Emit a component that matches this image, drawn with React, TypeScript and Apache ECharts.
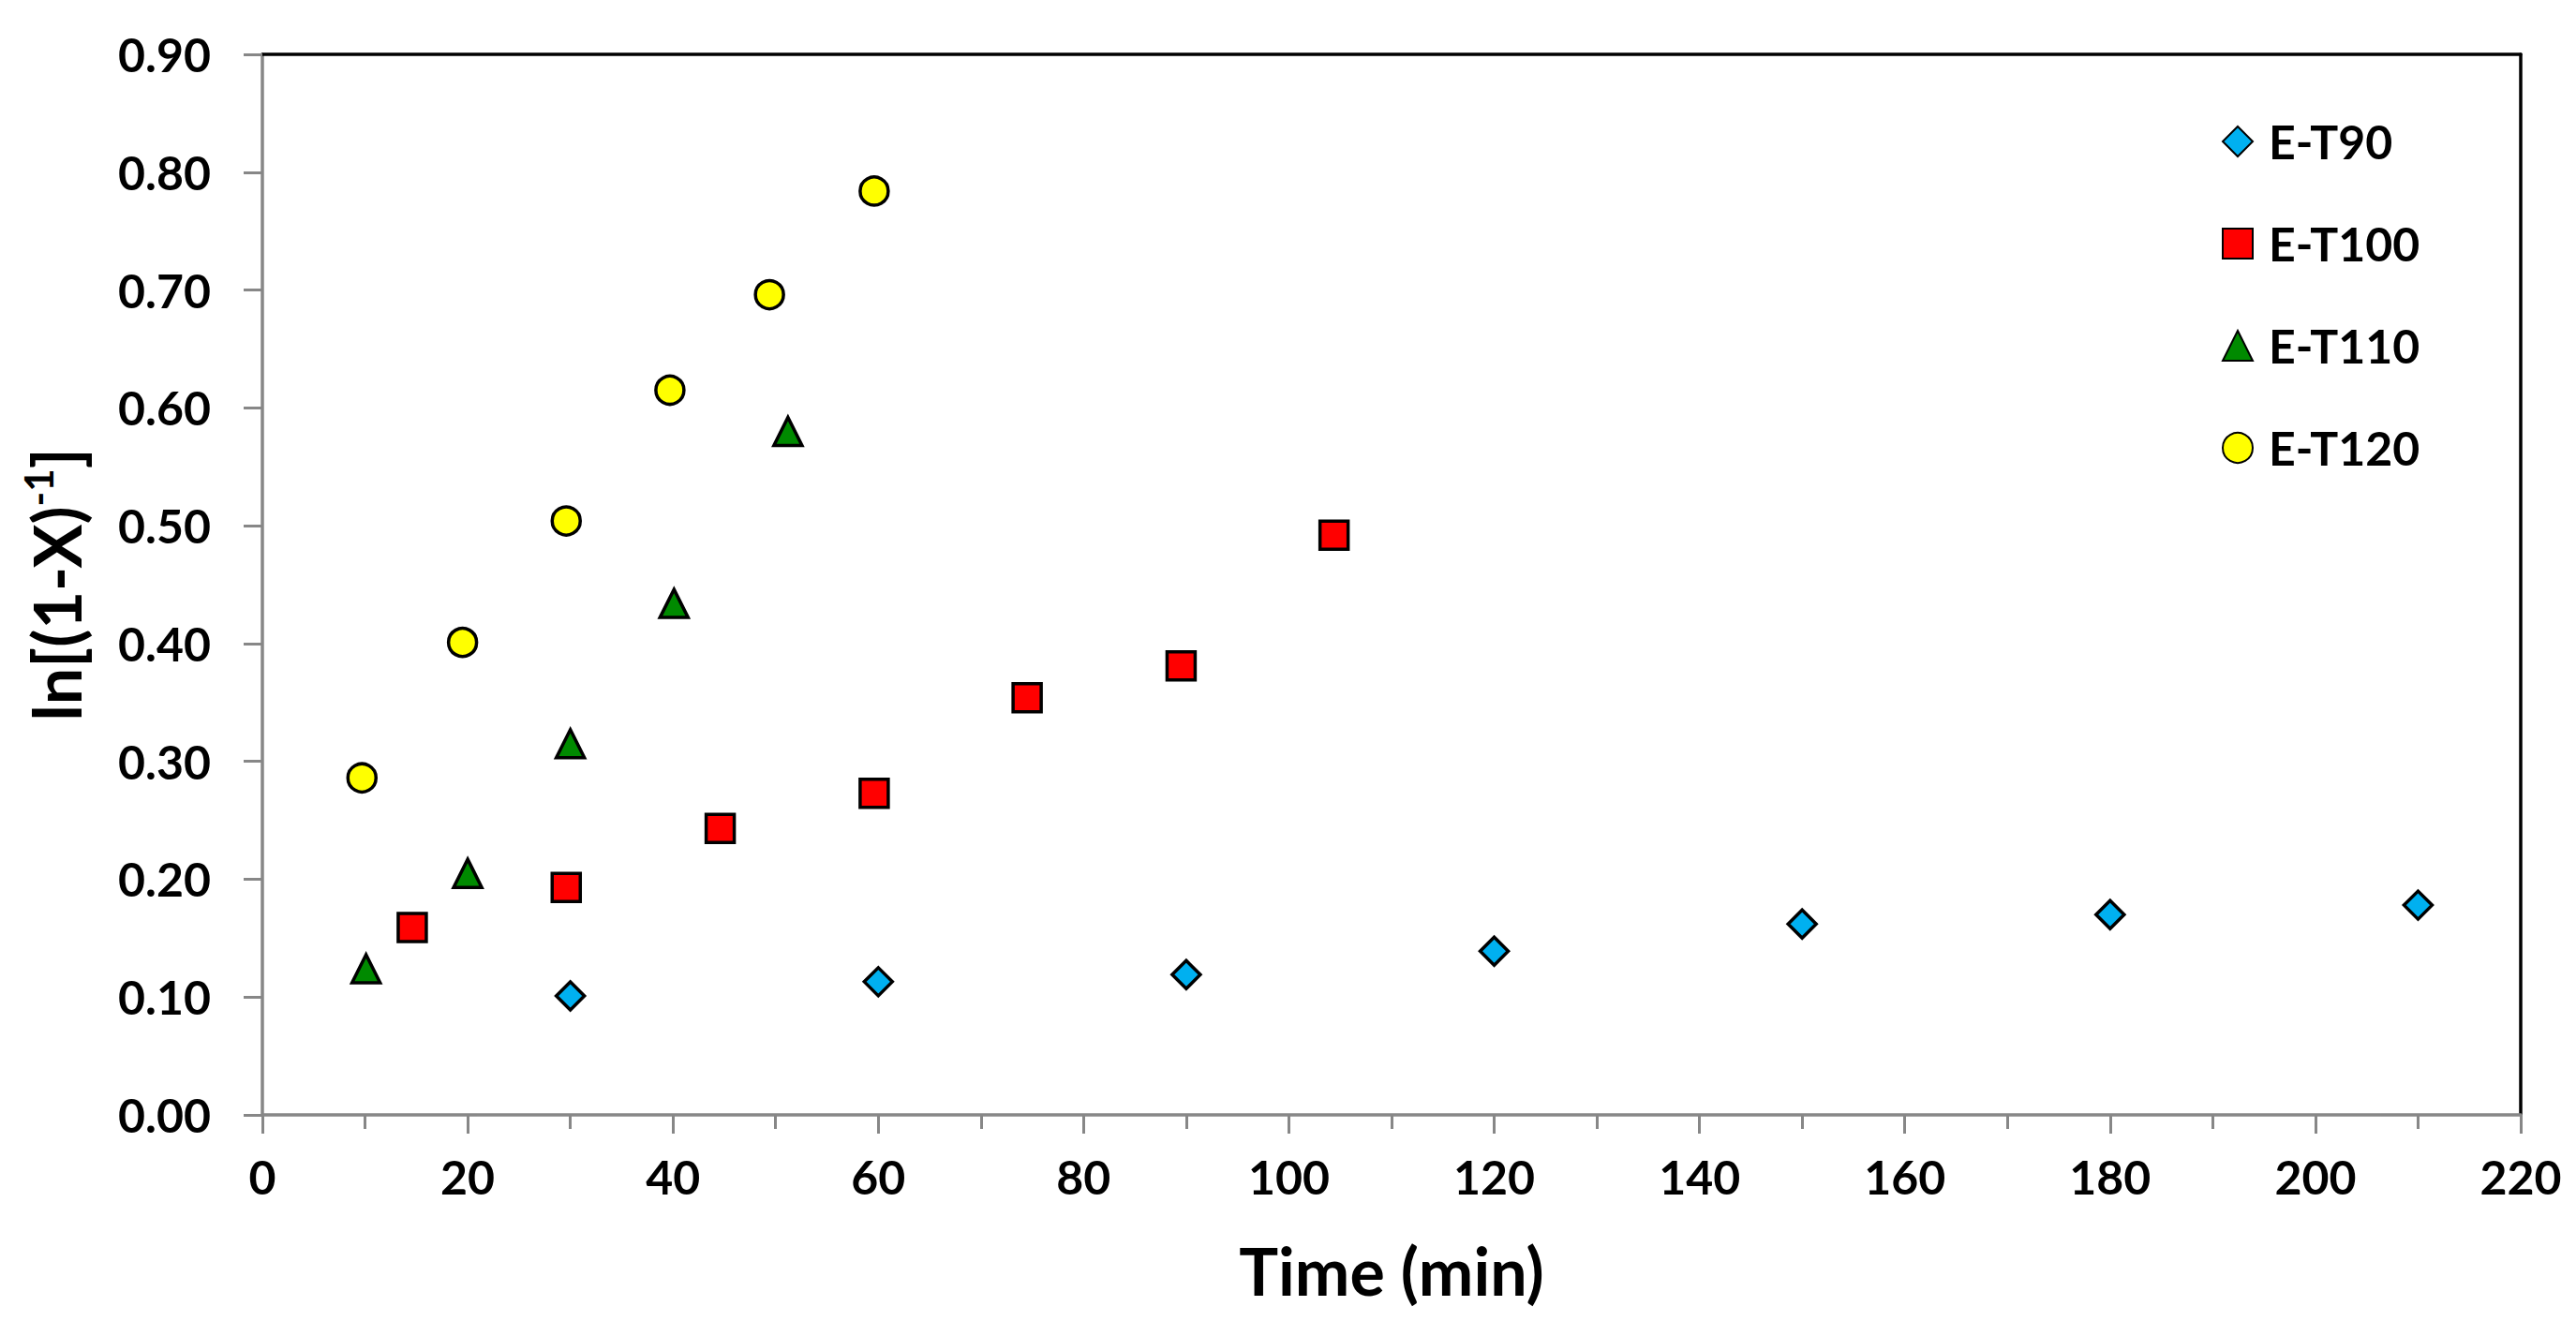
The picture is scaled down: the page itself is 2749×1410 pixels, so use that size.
import React, { useEffect, useRef } from "react";
import * as echarts from "echarts";

const seriesNames = ["E-T90", "E-T100", "E-T110", "E-T120"];
const timeT90 = [30, 60, 90, 120, 150, 180, 210];
const valT90 = [0.101, 0.113, 0.119, 0.139, 0.162, 0.170, 0.178];
const timeT100 = [14.6, 29.6, 44.6, 59.6, 74.5, 89.5, 104.4];
const valT100 = [0.159, 0.193, 0.243, 0.273, 0.354, 0.381, 0.492];
const timeT110 = [10.1, 20, 30, 40.1, 51.2];
const valT110 = [0.124, 0.205, 0.315, 0.434, 0.58];
const timeT120 = [9.7, 19.5, 29.6, 39.7, 49.4, 59.6];
const valT120 = [0.286, 0.401, 0.504, 0.615, 0.696, 0.784];

const xAxisName = "Time (min)";
const yAxisNameMain = "ln[(1-X)";
const yAxisNameSup = "-1";
const yAxisNameEnd = "]";

const FONT = 'Lato, "Open Sans", "Noto Sans", sans-serif';
const GRAY = "#878787";

const pair = (xs: number[], ys: number[]) => xs.map((x, i) => [x, ys[i]]);

export default function App() {
  const ref = useRef<HTMLDivElement>(null);
  useEffect(() => {
    if (!ref.current) return;
    const chart = echarts.init(ref.current, null, { renderer: "svg" });
    const mk = (name: string, data: number[][], symbol: string, color: string) => ({
      name,
      type: "scatter",
      data,
      symbol,
      symbolSize: 30,
      itemStyle: { color, borderColor: "#000", borderWidth: 3.5, opacity: 1 },
      emphasis: { disabled: true },
      z: 5,
    });
    chart.setOption({
      animation: false,
      backgroundColor: "#fff",
      textStyle: { fontFamily: FONT },
      grid: { left: 280, right: 59, top: 58, bottom: 220, containLabel: false },
      legend: {
        orient: "vertical",
        left: 2366,
        top: 121,
        itemWidth: 32,
        itemHeight: 32,
        itemGap: 59,
        data: seriesNames,
        textStyle: {
          fontFamily: FONT,
          fontWeight: "bold",
          fontSize: 50,
          lineHeight: 50,
          color: "#000",
          padding: [0, 0, 0, 12],
        },
        selectedMode: false,
      },
      xAxis: [
        {
          type: "value",
          min: 0,
          max: 220,
          interval: 20,
          name: xAxisName,
          nameLocation: "middle",
          nameGap: 131,
          nameTextStyle: { fontFamily: FONT, fontWeight: "bold", fontSize: 70, color: "#000" },
          axisLine: { show: true, onZero: false, lineStyle: { color: GRAY, width: 3.5 } },
          axisTick: { show: true, inside: false, length: 20, lineStyle: { color: GRAY, width: 3 } },
          minorTick: { show: true, splitNumber: 2, length: 15, lineStyle: { color: GRAY, width: 3 } },
          axisLabel: { margin: 41, fontFamily: FONT, fontWeight: "bold", fontSize: 50, color: "#000" },
          splitLine: { show: false },
        },
        {
          type: "value",
          position: "top",
          min: 0,
          max: 220,
          interval: 20,
          axisLine: { show: true, onZero: false, lineStyle: { color: "#000", width: 3.5 } },
          axisTick: { show: false },
          axisLabel: { show: false },
          splitLine: { show: false },
        },
      ],
      yAxis: [
        {
          type: "value",
          min: 0,
          max: 0.9,
          interval: 0.1,
          name: `{a|${yAxisNameMain}}{s|${yAxisNameSup}}{a|${yAxisNameEnd}}`,
          nameLocation: "middle",
          nameRotate: 90,
          nameGap: 180,
          nameTextStyle: {
            color: "#000",
            rich: {
              a: { fontFamily: FONT, fontWeight: "bold", fontSize: 70, color: "#000", lineHeight: 80 },
              s: { fontFamily: FONT, fontWeight: "bold", fontSize: 42, color: "#000", verticalAlign: "top", lineHeight: 50 },
            },
          },
          axisLine: { show: true, onZero: false, lineStyle: { color: GRAY, width: 3.5 } },
          axisTick: { show: true, inside: false, length: 20, lineStyle: { color: GRAY, width: 3 } },
          axisLabel: {
            margin: 55,
            fontFamily: FONT,
            fontWeight: "bold",
            fontSize: 50,
            color: "#000",
            formatter: (v: number) => v.toFixed(2),
          },
          splitLine: { show: false },
        },
        {
          type: "value",
          position: "right",
          min: 0,
          max: 0.9,
          interval: 0.1,
          axisLine: { show: true, onZero: false, lineStyle: { color: "#000", width: 3.5 } },
          axisTick: { show: false },
          axisLabel: { show: false },
          splitLine: { show: false },
        },
      ],
      series: [
        mk(seriesNames[0], pair(timeT90, valT90), "diamond", "#00B0F0"),
        mk(seriesNames[1], pair(timeT100, valT100), "rect", "#FF0000"),
        mk(seriesNames[2], pair(timeT110, valT110), "triangle", "#008A00"),
        mk(seriesNames[3], pair(timeT120, valT120), "circle", "#FFFF00"),
      ],
    });
    return () => chart.dispose();
  }, []);
  return (
    <div
      ref={ref}
      style={{ position: "absolute", left: 0, top: 0, width: 2749, height: 1410, background: "#fff" }}
    />
  );
}
